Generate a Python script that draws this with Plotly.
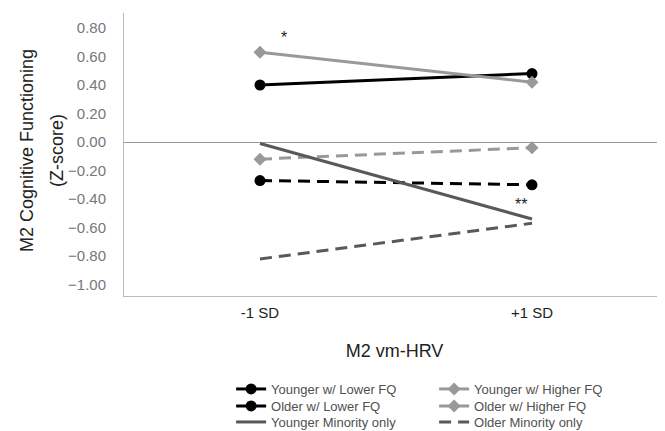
import plotly.graph_objects as go

categories = ["-1 SD", "+1 SD"]
younger_lower = [0.40, 0.48]
younger_higher = [0.63, 0.42]
older_lower = [-0.27, -0.30]
older_higher = [-0.12, -0.04]
younger_minority = [-0.01, -0.54]
older_minority = [-0.82, -0.57]
y_ticks = [0.8, 0.6, 0.4, 0.2, 0.0, -0.2, -0.4, -0.6, -0.8, -1.0]

BLACK = "#000000"
LGRAY = "#999999"
DGRAY = "#595959"
DASH = "12px,7px"

fig = go.Figure()
series = [
    ("Younger w/ Lower FQ", younger_lower, BLACK, "solid", "circle", 11, "legend"),
    ("Younger w/ Higher FQ", younger_higher, LGRAY, "solid", "diamond", 10, "legend"),
    ("Older w/ Lower FQ", older_lower, BLACK, DASH, "circle", 11, "legend2"),
    ("Older w/ Higher FQ", older_higher, LGRAY, DASH, "diamond", 10, "legend2"),
    ("Younger Minority only", younger_minority, DGRAY, "solid", None, 0, "legend3"),
    ("Older Minority only", older_minority, DGRAY, DASH, None, 0, "legend3"),
]
for name, vals, col, dash, sym, size, lg in series:
    if sym:
        fig.add_trace(go.Scatter(x=categories, y=vals, name=name, mode="lines+markers",
                                 legend=lg,
                                 line=dict(color=col, width=3, dash=dash),
                                 marker=dict(symbol=sym, size=size, color=col)))
    else:
        fig.add_trace(go.Scatter(x=categories, y=vals, name=name, mode="lines",
                                 legend=lg,
                                 line=dict(color=col, width=3, dash=dash)))

fig.add_annotation(x=0.09, y=0.73, xref="x", yref="y", text="*", showarrow=False,
                   font=dict(size=16, color="#222"))
fig.add_annotation(x=0.96, y=-0.44, xref="x", yref="y", text="**", showarrow=False,
                   font=dict(size=16, color="#222"))

# y-axis title, two lines with wide spacing
PLOT_LEFT = 116
PLOT_W = 541
PLOT_BOTTOM = 288
PLOT_H = 283
for txt, px in [("M2 Cognitive Functioning", 19), ("(Z-score)", 49)]:
    fig.add_annotation(x=(px - PLOT_LEFT) / PLOT_W, y=(PLOT_BOTTOM - 143) / PLOT_H,
                       xref="paper", yref="paper", text=txt, textangle=-90,
                       showarrow=False, xanchor="center", yanchor="middle",
                       font=dict(size=18, color="#222"))

FONT = "Liberation Sans, Arial, sans-serif"

def legend_cfg(row_center_px):
    return dict(orientation="h", x=0.198, y=(PLOT_BOTTOM - row_center_px) / PLOT_H,
                xanchor="left", yanchor="middle", entrywidth=158,
                font=dict(size=13, color="#505050"),
                bgcolor="rgba(0,0,0,0)", tracegroupgap=0)

fig.update_layout(
    width=657, height=423,
    margin=dict(l=116, r=0, t=5, b=135, autoexpand=False),
    paper_bgcolor="white", plot_bgcolor="white",
    font=dict(family=FONT, color="#222"),
    showlegend=True,
    legend=legend_cfg(381),
    legend2=legend_cfg(398),
    legend3=legend_cfg(414),
    xaxis=dict(type="category", range=[-0.5, 1.489], showgrid=False, showline=True,
               linecolor="#bbbbbb", linewidth=1, ticks="", zeroline=False,
               automargin=False, ticklabelstandoff=3,
               tickfont=dict(size=15, color="#222"),
               title=dict(text="M2 vm-HRV", font=dict(size=18, color="#222"), standoff=24)),
    yaxis=dict(range=[-1.08, 0.905], tickvals=y_ticks, tickformat=".2f",
               showgrid=False, showline=True, linecolor="#bbbbbb", linewidth=1,
               zeroline=True, zerolinecolor="#999999", zerolinewidth=1,
               ticks="", ticklabelstandoff=14, automargin=False,
               tickfont=dict(size=15, color="#777777")),
)

fig.write_html("out.html")
